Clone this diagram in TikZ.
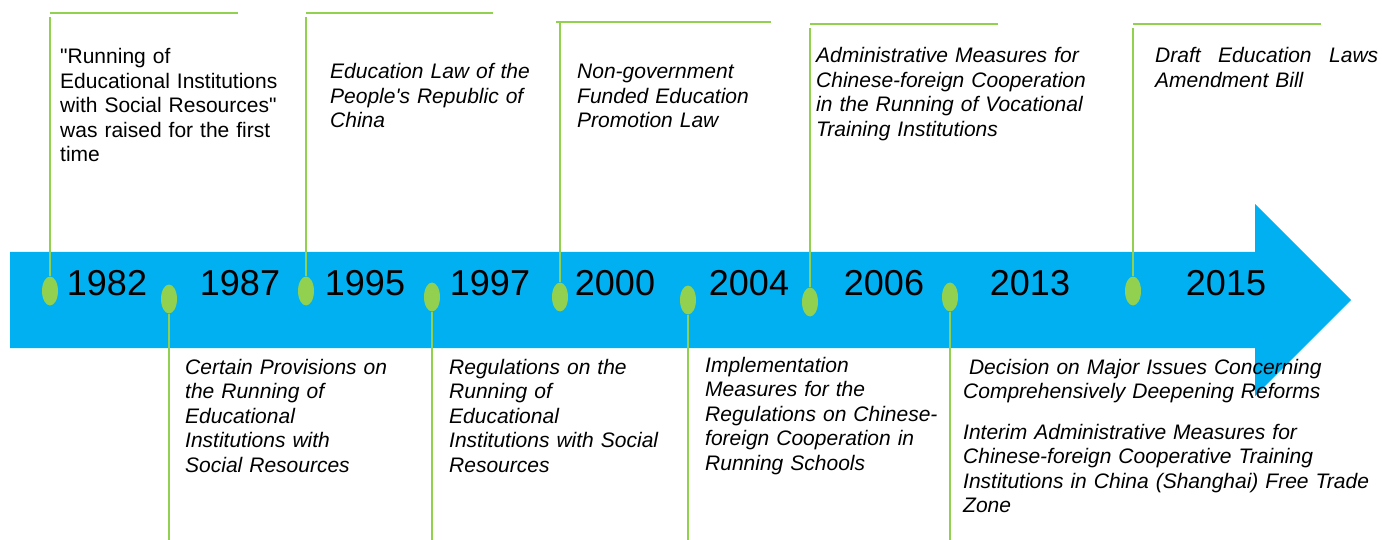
\documentclass[tikz,border=0pt]{standalone}
\usepackage{fontspec}
\setmainfont{Liberation Sans}[Ligatures=TeXOff]
\usetikzlibrary{shapes.geometric}
\definecolor{arrowblue}{RGB}{0,176,240}
\definecolor{leafgreen}{RGB}{146,208,80}
\begin{document}
\begin{tikzpicture}[x=1pt,y=-1pt,
  dot/.style={ellipse,fill=leafgreen,draw=none,minimum width=16pt,minimum height=29pt,inner sep=0pt},
  stem/.style={draw=leafgreen,line width=2pt},
  year/.style={anchor=base,inner sep=0pt,font=\fontsize{36}{40}\selectfont},
  note/.style={anchor=base west,inner sep=0pt,text width=#1,align=left,
    font=\fontsize{21}{24.5}\selectfont\itshape},
  note/.default=260pt,
  plain/.style={anchor=base west,inner sep=0pt,text width=240pt,align=left,
    font=\fontsize{21}{24.5}\selectfont}]
\useasboundingbox (0,0) rectangle (1382,540);
% timeline arrow
\fill[arrowblue] (10,252) -- (1255,252) -- (1255,204) -- (1351,300)
  -- (1255,396) -- (1255,348) -- (10,348) -- cycle;
% milestone markers
\node[dot] (d1982) at (50,291) {};
\node[dot] (d1987) at (169,299) {};
\node[dot] (d1995) at (306,291) {};
\node[dot] (d1997) at (432,297) {};
\node[dot] (d2000) at (560,297) {};
\node[dot] (d2004) at (688,300) {};
\node[dot] (d2006) at (810,302) {};
\node[dot] (d2013) at (950,297) {};
\node[dot] (d2015) at (1133,291) {};
% years
\node[year] (y1982) at (107,295) {1982};
\node[year] (y1987) at (240,295) {1987};
\node[year] (y1995) at (365,295) {1995};
\node[year] (y1997) at (490,295) {1997};
\node[year] (y2000) at (615,295) {2000};
\node[year] (y2004) at (749,295) {2004};
\node[year] (y2006) at (884,295) {2006};
\node[year] (y2013) at (1030,295) {2013};
\node[year] (y2015) at (1226,295) {2015};
% upper stems with their caps
\coordinate (t1982) at (50,17);
\coordinate (h1982a) at (50,13);  \coordinate (h1982b) at (238,13);
\coordinate (t1995) at (306,17);
\coordinate (h1995a) at (306,13); \coordinate (h1995b) at (493,13);
\coordinate (t2000) at (560,23);
\coordinate (h2000a) at (556,22); \coordinate (h2000b) at (771,22);
\coordinate (t2006) at (810,28);
\coordinate (h2006a) at (810,24); \coordinate (h2006b) at (998,24);
\coordinate (t2015) at (1133,28);
\coordinate (h2015a) at (1133,24); \coordinate (h2015b) at (1321,24);
\foreach \y in {1982,1995,2000,2006,2015}{
  \draw[stem] (t\y) -- (d\y.north);
  \draw[stem] (h\y a) -- (h\y b);
}
% lower stems
\coordinate (b1987) at (169,540);
\coordinate (b1997) at (432,540);
\coordinate (b2004) at (688,540);
\coordinate (b2013) at (950,540);
\foreach \y in {1987,1997,2004,2013}{
  \draw[stem] (d\y.south) -- (b\y);
}
% texts above the timeline
\node[plain] (n1982) at (60,64) {"Running of\\Educational Institutions\\with Social Resources"\\was raised for the first\\time};
\node[note] (n1995) at (330,79) {Education Law of the\\People's Republic of\\China};
\node[note] (n2000) at (577,79) {Non-government\\Funded Education\\Promotion Law};
\node[note=300pt] (n2006) at (816,63) {Administrative Measures for\\Chinese-foreign Cooperation\\in the Running of Vocational\\Training Institutions};
\node[note=240pt] (n2015) at (1155,63) {\hbox to 223pt{Draft\hfill Education\hfill Laws}\\Amendment Bill};
% texts below the timeline
\node[note] (n1987) at (185,374) {Certain Provisions on\\the Running of\\Educational\\Institutions with\\Social Resources};
\node[note] (n1997) at (449,374) {Regulations on the\\Running of\\Educational\\Institutions with Social\\Resources};
\node[note] (n2004) at (705,372) {Implementation\\Measures for the\\Regulations on Chinese-\\foreign Cooperation in\\Running Schools};
\node[note=440pt] (n2013a) at (963,374) {\hspace*{5.8pt}Decision on Major Issues Concerning\\Comprehensively Deepening Reforms};
\node[note=440pt] (n2013b) at (963,439) {Interim Administrative Measures for\\Chinese-foreign Cooperative Training\\Institutions in China (Shanghai) Free Trade\\Zone};
\end{tikzpicture}
\end{document}
